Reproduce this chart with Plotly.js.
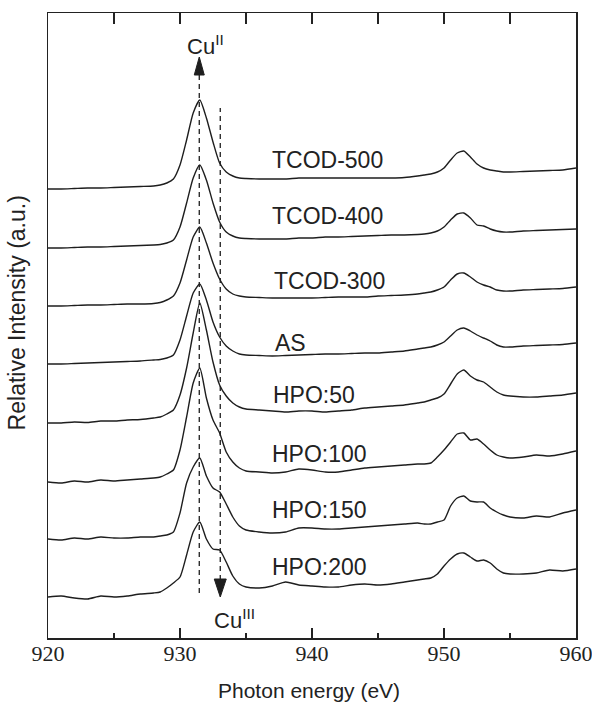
<!DOCTYPE html>
<html><head><meta charset="utf-8">
<script src="https://cdn.plot.ly/plotly-3.0.1.min.js"></script>
<style>html,body{margin:0;padding:0;background:#fff}#chart{width:592px;height:703px}</style>
</head><body><div id="chart"></div>
<script>
// Photon energy grid (eV)
const energy = [920,921,922,923,924,925,926,927,928,928.5,929,929.5,930,930.5,931,931.5,932,932.5,933,933.5,934,934.5,935,936,937,938,939,940,941,942,943,944,945,946,947,948,948.5,949,949.5,950,950.5,951,951.5,952,952.5,953,953.5,954,954.5,955,956,957,958,959,960];

// Sample names (top to bottom)
const sampleNames = ['TCOD-500','TCOD-400','TCOD-300','AS','HPO:50','HPO:100','HPO:150','HPO:200'];

// Stacked relative intensities (a.u., offsets included)
const tcod500 = [449,449,449.5,450,450,450.5,451,451.5,452,453,455,459,473,498,525,538,520,496,475,466,462,460,459.5,459,459,459,460,460,460,460,460,460,460,460,460.5,462,463,464,466,470,478,485,487,481,474,470,468,467,466,466,466.5,467,467.5,468,470];
const tcod400 = [390,390,390.5,391,391,391.5,392,392.5,393,393.5,395,398,411,435,460,473,458,435,416,406,402,400,399.5,399,399,399,400,400,401,401,401.5,402,402.5,403,403,403.5,404,405,407,411,418,424,425,420,413,412,409,407,406,406,407,407.5,408,408.5,409];
const tcod300 = [332,332,332.5,333,333,333.5,334,334,334.5,335.5,338,342,355,378,401,411,395,375,359,349,344,342,341,340.5,340,340,340,340,340.5,341,341,341,342,342.5,343,344,345,346,348,351,358,364,365,361,356,353,351,348,347,347,348,348.5,349,349.5,351];
const asPrepared = [274,274,274.5,275,275.5,276,276.5,277,278,278.5,280,283,298,322,345,354,338,316,301,292,287,284,283,282.5,282,282.5,283,283.5,284,284,284.5,285,285,286,287,289,290,291,293,296,302,308,310,307,303,300,297,293,291,291,292,292.5,293,293.5,295];
const hpo50 = [215,215,216,215.5,217,217,218,218.5,220,221,224,228,243,270,305,335,308,276,253,242,235,231,229,228,227,226,227,227,226,227,228,230,231,232,233,235,236,238,240,244,254,264,268,262,258,256,251,246,243,242,241,241,242,243,245];
const hpo100 = [156,155,157,156,158,157,158,159,160,161,164,168,188,221,255,270,240,218,205,186,176,170,167,166,165,166,169,168,166,166,168,170,171,172,173,174,174,175,181,188,196,204,205,198,199,194,188,183,181,180,181,183,182,184,187];
const hpo150 = [99,98,100,99,101,100,100,101,101,102,103,106,125,155,171,180,162,150,146,134,121,112,108,106,105,106,110,110,109,109,110,111,112,113,114,115,114,114,116,118,132,140,142,137,136,136,130,126,123,121,120,122,121,125,128];
const hpo200 = [41,42,40,39,42,41,42,44,45,46,50,55,61,83,106,116,99,89,88,76,62,54,51,50,52,56,53,52,51,51,53,54,53,54,56,58,59,60,64,72,79,84,85,81,77,78,75,69,65,64,64,65,68,67,69];

const spectra = [tcod500, tcod400, tcod300, asPrepared, hpo50, hpo100, hpo150, hpo200];

// Label placement (energy of left edge, level in a.u.)
const labelEnergy = [936.8,936.8,936.95,937.05,936.9,936.8,936.8,936.8];
const labelLevel = [478,422,357,295,243,184,128,71];

// Marker lines
const cuIIEnergy = 931.46, cuIIIEnergy = 933.05;

const ink = '#1e1e1e';
const sans = 'Liberation Sans';
const serif = 'Liberation Serif';

const traces = spectra.map((s, i) => ({
  x: energy, y: s, type: 'scatter', mode: 'lines', name: sampleNames[i],
  line: {color: ink, width: 1.4, shape: 'spline', smoothing: 0.6},
  showlegend: false, hoverinfo: 'skip'
}));
traces.push({x: [920, 960], y: [null, null], xaxis: 'x2', yaxis: 'y', mode: 'lines', showlegend: false, hoverinfo: 'skip'});

const annotations = sampleNames.map((n, i) => ({
  x: labelEnergy[i], y: labelLevel[i], xref: 'x', yref: 'y', text: n, showarrow: false,
  xanchor: 'left', yanchor: 'middle', font: {family: sans, size: 23, color: '#222'}
}));
annotations.push(
  {x: 930.35, y: 593, xref: 'x', yref: 'y', text: 'Cu<sup>II</sup>', showarrow: false, xanchor: 'left', yanchor: 'middle',
   font: {family: sans, size: 22, color: '#222'}},
  {x: 932.4, y: 19, xref: 'x', yref: 'y', text: 'Cu<sup>III</sup>', showarrow: false, xanchor: 'left', yanchor: 'middle',
   font: {family: sans, size: 22, color: '#222'}},
  {x: 0.494, y: -0.084, xref: 'paper', yref: 'paper', text: 'Photon energy (eV)', showarrow: false, xanchor: 'center', yanchor: 'middle',
   font: {family: sans, size: 21, color: '#222'}},
  {x: -0.058, y: 0.52, xref: 'paper', yref: 'paper', text: 'Relative Intensity (a.u.)', showarrow: false, textangle: -90, xanchor: 'center', yanchor: 'middle',
   font: {family: sans, size: 23, color: '#222'}}
);

const shapes = [
  {type: 'line', xref: 'x', yref: 'y', x0: cuIIEnergy, x1: cuIIEnergy, y0: 45, y1: 565, line: {color: ink, width: 1.3, dash: '5px,4px'}},
  {type: 'line', xref: 'x', yref: 'y', x0: cuIIIEnergy, x1: cuIIIEnergy, y0: 58, y1: 530, line: {color: ink, width: 1.3, dash: '5px,4px'}},
  {type: 'path', xref: 'x', yref: 'y', xsizemode: 'pixel', ysizemode: 'pixel', xanchor: cuIIEnergy, yanchor: 581,
   path: 'M0,0L-5,-18L5,-18Z', fillcolor: ink, line: {color: ink, width: 1}},
  {type: 'path', xref: 'x', yref: 'y', xsizemode: 'pixel', ysizemode: 'pixel', xanchor: cuIIIEnergy, yanchor: 41,
   path: 'M0,0L-6,18L6,18Z', fillcolor: ink, line: {color: ink, width: 1}}
];

const axisLine = {showline: true, linecolor: '#222', linewidth: 1.5, showgrid: false, zeroline: false};
const layout = {
  width: 592, height: 703,
  margin: {l: 48, r: 16, t: 13, b: 65},
  paper_bgcolor: '#fff', plot_bgcolor: '#fff',
  font: {family: sans, color: '#222'},
  xaxis: Object.assign({range: [920, 960], ticks: 'inside', ticklen: 10, tickwidth: 1.3, tickcolor: '#222',
    tick0: 920, dtick: 10, ticklabeloverflow: 'allow', ticklabelstandoff: -5, automargin: false,
    tickfont: {family: serif, size: 22, color: '#222'},
    minor: {ticks: 'inside', dtick: 5, tick0: 920, ticklen: 5, tickwidth: 1.3, tickcolor: '#222'}}, axisLine),
  xaxis2: Object.assign({range: [920, 960], overlaying: 'x', side: 'top', anchor: 'y', ticks: 'inside', ticklen: 11,
    tickwidth: 1.3, tickcolor: '#222', tick0: 920, dtick: 5, showticklabels: false}, axisLine),
  yaxis: Object.assign({range: [0, 625], mirror: true, ticks: '', showticklabels: false}, axisLine),
  annotations: annotations,
  shapes: shapes
};

Plotly.newPlot('chart', traces, layout, {displayModeBar: false, staticPlot: true});
</script>
</body></html>
